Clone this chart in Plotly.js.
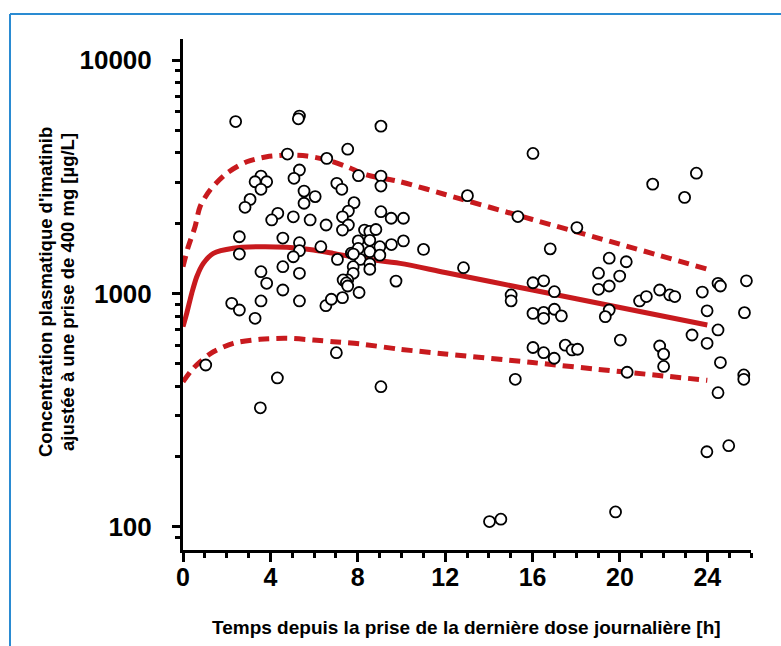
<!DOCTYPE html>
<html>
<head>
<meta charset="utf-8">
<script src="https://cdn.plot.ly/plotly-3.0.1.min.js"></script>
<style>
  html, body { margin: 0; padding: 0; background: #ffffff; }
  #chart { width: 781px; height: 646px; }
</style>
</head>
<body>
<div id="chart"></div>
<script>
// ---- Observed concentrations (time after last daily dose [h], concentration [µg/L]) ----
const timeH = [
  2.41, 5.33, 5.28, 9.06, 4.78, 7.54, 6.58, 8.03, 9.06, 9.06,
  5.33, 5.08, 3.57, 3.30, 3.83, 3.57, 3.07, 2.84, 5.54, 6.05,
  5.54, 7.04, 7.27, 7.83, 7.57, 7.30, 7.57, 7.30, 4.34, 4.06,
  5.05, 5.82, 6.55, 9.06, 9.53, 10.09, 10.09, 11.01, 2.58, 2.58,
  4.57, 5.33, 5.33, 5.05, 6.31, 7.07, 7.71, 8.02, 8.02, 8.31,
  8.55, 8.83, 8.55, 8.55, 9.01, 9.01, 9.54, 8.11, 8.55, 8.55,
  7.79, 7.79, 7.54, 7.33, 7.48, 7.30, 8.06, 9.75, 7.54, 3.57,
  3.83, 4.57, 5.33, 4.57, 3.57, 5.33, 2.23, 2.58, 3.30, 6.54,
  6.79, 1.04, 4.32, 3.54, 7.02, 9.06, 7.80,
  16.02, 13.02, 15.33, 18.03, 16.81, 12.84, 15.02, 15.02, 16.02, 16.51,
  17.00, 16.02, 16.51, 16.51, 17.00, 17.32, 21.50, 23.50, 22.96, 19.02,
  19.51, 20.29, 19.99, 19.02, 19.51, 19.51, 19.33, 20.90, 21.21, 21.82,
  22.28, 22.51, 23.77, 24.49, 24.60, 25.79, 23.99, 25.70, 24.49, 23.30,
  23.99, 24.60, 24.49, 25.67, 25.67, 23.98, 24.98, 20.02, 20.33, 21.82,
  22.00, 22.00, 16.02, 16.51, 16.99, 17.50, 17.81, 18.06, 15.21, 14.03,
  14.55, 19.80
];
const concentration = [
  5450, 5755, 5600, 5210, 3955, 4150, 3790, 3195, 3185, 2885,
  3380, 3115, 3185, 3010, 3010, 2795, 2530, 2340, 2745, 2600,
  2435, 2965, 2795, 2450, 2255, 2130, 1965, 1870, 2205, 2065,
  2130, 2065, 1965, 2240, 2100, 2100, 1680, 1545, 1750, 1475,
  1728, 1650, 1525, 1437, 1587, 1400, 1490, 1680, 1560, 1870,
  1845, 1880, 1690, 1510, 1587, 1460, 1620, 1400, 1340, 1270,
  1303, 1220, 1143, 1143, 1110, 960, 1010, 1130, 1077, 1240,
  1106, 1303, 1220, 1035, 929, 929, 908, 850, 783, 887,
  945, 494, 435, 324, 558, 399, 1475,
  3980, 2625, 2135, 1915, 1553, 1290, 986, 930, 1112, 1133,
  1018, 822, 830, 783, 856, 802, 2940, 3275, 2580, 1222,
  1417, 1368, 1188, 1042, 1077, 850, 796, 929, 970, 1035,
  986, 970, 1014, 1106, 1077, 1133, 843, 828, 698, 664,
  612, 506, 376, 448, 429, 210, 223, 632, 460, 596,
  550, 487, 587, 558, 528, 601, 573, 577, 429, 105.5,
  108, 116
];

// ---- Model curves (median and prediction interval) ----
const medianX = [0, 0.17, 0.40, 0.63, 0.93, 1.39, 2.30, 3.53, 4.75, 5.97, 6.88, 8.11, 9.94, 12, 16, 20, 24];
const medianY = [721, 822, 1002, 1180, 1346, 1486, 1563, 1587, 1577, 1536, 1486, 1415, 1346, 1230, 1035, 871, 733];

const upperX = [0, 0.24, 0.55, 0.78, 1.24, 2.00, 2.92, 3.83, 4.75, 5.67, 6.58, 7.50, 8.41, 9.94, 12, 16, 20, 24];
const upperY = [1303, 1585, 1930, 2354, 2775, 3270, 3667, 3851, 3915, 3880, 3733, 3494, 3221, 3012, 2655, 2075, 1626, 1271];

const lowerX = [0, 0.40, 0.78, 1.39, 2.30, 3.53, 4.75, 5.97, 6.88, 8.11, 9.94, 12, 16, 20, 24];
const lowerY = [419, 470, 510, 563, 612, 637, 643, 632, 622, 608, 577, 551, 506, 463, 425];

// ---- Axis ticks and titles ----
const xTickVals = [0, 4, 8, 12, 16, 20, 24];
const xTickText = ['0', '4', '8', '12', '16', '20', '24'];
const xMinorVals = [1, 2, 3, 5, 6, 7, 9, 10, 11, 13, 14, 15, 17, 18, 19, 21, 22, 23, 25, 26];
const yTickVals = [100, 1000, 10000];
const yTickText = ['100', '1000', '10000'];
const yMinorVals = [90, 200, 300, 400, 500, 600, 700, 800, 900, 2000, 3000, 4000, 5000, 6000, 7000, 8000, 9000];
const xTitle = 'Temps depuis la prise de la dernière dose journalière [h]';
const yTitleLines = ['Concentration plasmatique d\'imatinib', 'ajustée à une prise de 400 mg [µg/L]'];

const RED = '#c81a1e';
const FONT = 'Liberation Sans, Arial, Helvetica, sans-serif';

const traces = [
  { x: upperX, y: upperY, type: 'scatter', mode: 'lines',
    line: { color: RED, width: 5, dash: '11px,7px', shape: 'spline', smoothing: 0.8 }, hoverinfo: 'skip' },
  { x: lowerX, y: lowerY, type: 'scatter', mode: 'lines',
    line: { color: RED, width: 5, dash: '11px,7px', shape: 'spline', smoothing: 0.8 }, hoverinfo: 'skip' },
  { x: medianX, y: medianY, type: 'scatter', mode: 'lines',
    line: { color: RED, width: 5, shape: 'spline', smoothing: 0.8 }, hoverinfo: 'skip' },
  { x: timeH, y: concentration, type: 'scatter', mode: 'markers', cliponaxis: false,
    marker: { symbol: 'circle', size: 11, color: '#ffffff', line: { color: '#000000', width: 1.8 } } }
];

// plot area in pixels: left 183, right 751, top 39, bottom 550
const PL = 183, PW = 568, PT = 39, PH = 511;
const px = v => (v - PL) / PW;
const py = v => (PT + PH - v) / PH;
const xTitleFont = { family: FONT, size: 19, weight: 'bold', color: '#000000' };
const yTitleFont = { family: FONT, size: 18.5, weight: 'bold', color: '#000000' };

const layout = {
  width: 781, height: 646,
  margin: { l: PL, r: 781 - PL - PW, t: PT, b: 646 - PT - PH },
  paper_bgcolor: '#ffffff', plot_bgcolor: '#ffffff',
  showlegend: false,
  font: { family: FONT, color: '#000000' },
  xaxis: {
    range: [0, 26], autorange: false,
    tickmode: 'array', tickvals: xTickVals, ticktext: xTickText,
    ticks: 'outside', ticklen: 9, tickwidth: 3, tickcolor: '#000000',
    ticklabelstandoff: -6,
    minor: { tickmode: 'array', tickvals: xMinorVals, ticks: 'outside', ticklen: 5, tickwidth: 3, tickcolor: '#000000', showgrid: false },
    showline: true, linewidth: 3, linecolor: '#000000',
    showgrid: false, zeroline: false,
    tickfont: { family: FONT, size: 25, weight: 'bold', color: '#000000' }
  },
  yaxis: {
    type: 'log', range: [Math.log10(79.7), 4.09], autorange: false,
    tickmode: 'array', tickvals: yTickVals, ticktext: yTickText,
    ticks: 'outside', ticklen: 8, tickwidth: 3, tickcolor: '#000000',
    ticklabelstandoff: 15,
    minor: { tickmode: 'array', tickvals: yMinorVals, ticks: 'outside', ticklen: 5, tickwidth: 3, tickcolor: '#000000', showgrid: false },
    showline: true, linewidth: 3, linecolor: '#000000',
    showgrid: false, zeroline: false,
    tickfont: { family: FONT, size: 26, weight: 'bold', color: '#000000' }
  },
  annotations: [
    { text: xTitle, xref: 'paper', yref: 'paper', x: px(466), y: py(627),
      xanchor: 'center', yanchor: 'middle', showarrow: false, font: xTitleFont },
    { text: yTitleLines[0], xref: 'paper', yref: 'paper', x: px(45), y: py(292), textangle: -90,
      xanchor: 'center', yanchor: 'middle', showarrow: false, font: yTitleFont },
    { text: yTitleLines[1], xref: 'paper', yref: 'paper', x: px(67), y: py(292), textangle: -90,
      xanchor: 'center', yanchor: 'middle', showarrow: false, font: yTitleFont }
  ],
  shapes: [
    { type: 'line', xref: 'paper', yref: 'paper', x0: px(10), x1: px(781), y0: py(14), y1: py(14),
      line: { color: '#2a8bd2', width: 2 } },
    { type: 'line', xref: 'paper', yref: 'paper', x0: px(10), x1: px(10), y0: py(14), y1: py(646),
      line: { color: '#2a8bd2', width: 2 } }
  ]
};

Plotly.newPlot('chart', traces, layout, { displayModeBar: false, staticPlot: true });
</script>
</body>
</html>
